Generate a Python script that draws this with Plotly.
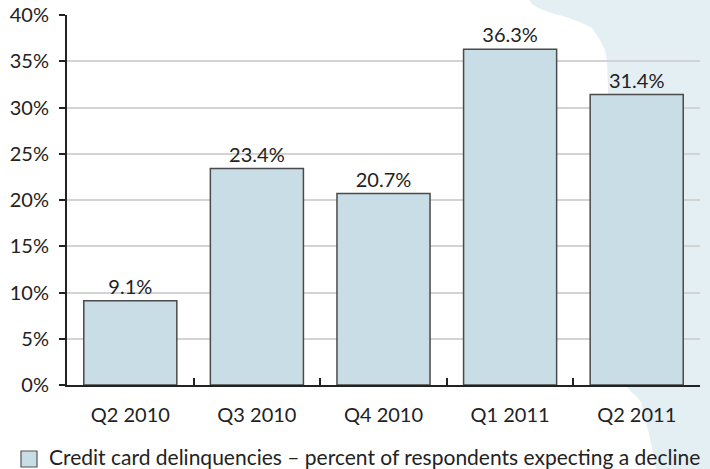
import plotly.graph_objects as go

# Survey results: credit card delinquencies, share expecting a decline
quarters = ["Q2 2010", "Q3 2010", "Q4 2010", "Q1 2011", "Q2 2011"]
pct_expecting_decline = [9.1, 23.4, 20.7, 36.3, 31.4]
y_tick_values = [0, 5, 10, 15, 20, 25, 30, 35, 40]
y_tick_labels = ["0%", "5%", "10%", "15%", "20%", "25%", "30%", "35%", "40%"]
series_name = "Credit card delinquencies \u2013 percent of respondents expecting a decline"

W, H = 710, 469
M_L, M_R, M_T, M_B = 67, 10, 15, 84
PLOT_W = W - M_L - M_R
PLOT_H = H - M_T - M_B

BAR_FILL = "#c9dde6"
BAR_LINE = "#4a4a4a"
INK = "#222222"
FONT = "Lato"


def px_to_paper(x, y):
    return (x - M_L) / PLOT_W, (H - M_B - y) / PLOT_H


def path_from(points):
    coords = [px_to_paper(x, y) for x, y in points]
    return "M " + " L ".join(f"{a:.4f},{b:.4f}" for a, b in coords) + " Z"


# Pale map-like backdrop on the right side of the page
backdrop = [
    (529, 0), (710, 0), (710, 469), (656, 469), (653, 452), (648, 430),
    (643, 412), (641, 402), (636, 396), (631, 392), (628, 388), (612, 380),
    (609, 200), (608, 90), (607, 60), (605, 50), (600, 40), (592, 28),
    (580, 22), (566, 17), (548, 12), (538, 8), (532, 4),
]

fig = go.Figure()
fig.add_trace(go.Bar(
    x=quarters,
    y=pct_expecting_decline,
    name=series_name,
    marker=dict(color=BAR_FILL, line=dict(color=BAR_LINE, width=1.5)),
    text=[f"{v:.1f}%" for v in pct_expecting_decline],
    textposition="outside",
    textfont=dict(family=FONT, size=20, color=INK),
    cliponaxis=False,
    showlegend=False,
))

lx0, ly0 = px_to_paper(21, 467)
lx1, ly1 = px_to_paper(37, 451)
tx, ty = px_to_paper(47, 456)

fig.update_layout(
    width=W, height=H,
    margin=dict(l=M_L, r=M_R, t=M_T, b=M_B),
    paper_bgcolor="white",
    plot_bgcolor="rgba(0,0,0,0)",
    bargap=0.265,
    font=dict(family=FONT, size=20, color=INK),
    shapes=[
        dict(type="path", xref="paper", yref="paper", path=path_from(backdrop),
             fillcolor="#e4eff4", line=dict(width=0), layer="below"),
        dict(type="rect", xref="paper", yref="paper", x0=lx0, y0=ly0, x1=lx1, y1=ly1,
             fillcolor=BAR_FILL, line=dict(color="#555555", width=1.2)),
    ],
    annotations=[
        dict(xref="paper", yref="paper", x=tx, y=ty, xanchor="left", yanchor="middle",
             text=series_name, showarrow=False,
             font=dict(family=FONT, size=21, color=INK)),
    ],
    xaxis=dict(
        automargin=False,
        showline=True, linecolor=INK, linewidth=2,
        ticks="inside", tickson="boundaries", ticklen=7, tickwidth=2, tickcolor=INK,
        showgrid=False, tickfont=dict(family=FONT, size=20, color=INK),
        ticklabelstandoff=11,
    ),
    yaxis=dict(
        automargin=False,
        range=[0, 40], tickvals=y_tick_values, ticktext=y_tick_labels,
        showline=True, linecolor=INK, linewidth=2,
        ticks="outside", ticklen=6, tickwidth=2, tickcolor=INK,
        showgrid=True, gridcolor="#d3d3d3", gridwidth=1.5,
        zeroline=False, tickfont=dict(family=FONT, size=20, color=INK),
        ticklabelstandoff=6,
    ),
)

fig.write_html("out.html")
